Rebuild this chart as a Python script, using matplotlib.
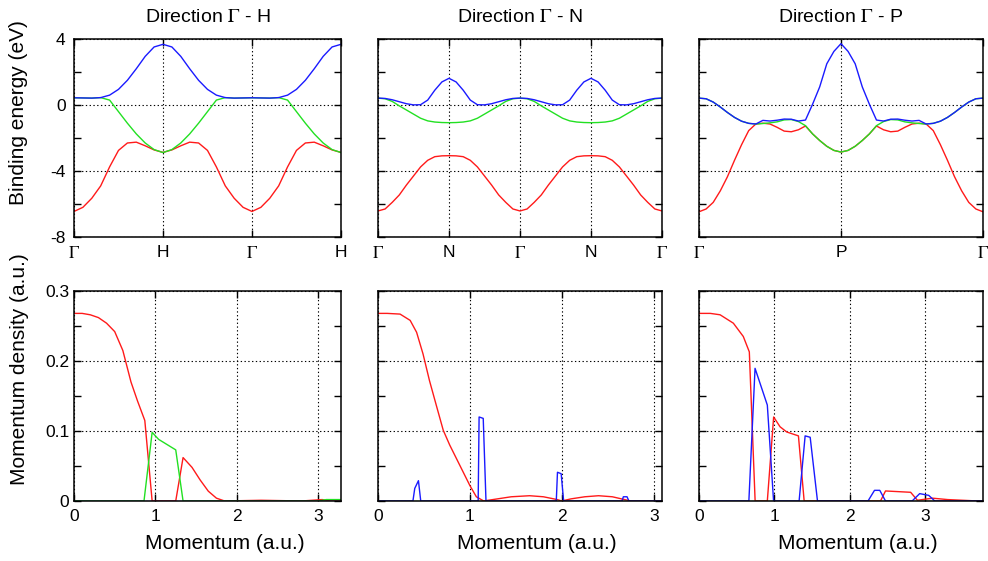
import numpy as np
import matplotlib
matplotlib.use('Agg')
import matplotlib.pyplot as plt

plt.rcParams['font.family'] = ['Liberation Sans', 'DejaVu Sans']
plt.rcParams['mathtext.fontset'] = 'stix'
plt.rcParams['axes.unicode_minus'] = False

# ---- band structure, sampled along the k-path (one unit = one segment) ----
# Direction Gamma - H  (G H G H), step 0.1
gh_red = [-6.45, -6.2, -5.65, -4.9, -3.75, -2.75, -2.3, -2.25, -2.47, -2.72, -2.87,
          -2.72, -2.47, -2.25, -2.3, -2.75, -3.75, -4.9, -5.65, -6.2, -6.45,
          -6.2, -5.65, -4.9, -3.75, -2.75, -2.3, -2.25, -2.47, -2.72, -2.87]
gh_green = [0.44, 0.43, 0.42, 0.45, 0.3, -0.4, -1.1, -1.75, -2.3, -2.7, -2.88,
            -2.7, -2.3, -1.75, -1.1, -0.4, 0.3, 0.45, 0.42, 0.43, 0.44,
            0.43, 0.42, 0.45, 0.3, -0.4, -1.1, -1.75, -2.3, -2.7, -2.88]
gh_blue = [0.44, 0.43, 0.42, 0.45, 0.6, 0.95, 1.5, 2.2, 2.95, 3.52, 3.68,
           3.52, 2.95, 2.2, 1.5, 0.95, 0.6, 0.45, 0.42, 0.43, 0.44,
           0.43, 0.42, 0.45, 0.6, 0.95, 1.5, 2.2, 2.95, 3.52, 3.68]

# Direction Gamma - N  (G N G N G), step 0.1
gn_red = [-6.42, -6.3, -5.9, -5.45, -4.85, -4.3, -3.75, -3.35, -3.13, -3.08, -3.07,
          -3.08, -3.13, -3.35, -3.75, -4.3, -4.85, -5.45, -5.9, -6.3, -6.42,
          -6.3, -5.9, -5.45, -4.85, -4.3, -3.75, -3.35, -3.13, -3.08, -3.07,
          -3.08, -3.13, -3.35, -3.75, -4.3, -4.85, -5.45, -5.9, -6.3, -6.42]
gn_green = [0.42, 0.38, 0.22, -0.05, -0.3, -0.55, -0.8, -0.96, -1.03, -1.06, -1.07,
            -1.06, -1.03, -0.96, -0.8, -0.55, -0.3, -0.05, 0.22, 0.38, 0.42,
            0.38, 0.22, -0.05, -0.3, -0.55, -0.8, -0.96, -1.03, -1.06, -1.07,
            -1.06, -1.03, -0.96, -0.8, -0.55, -0.3, -0.05, 0.22, 0.38, 0.42]
gn_blue = [0.42, 0.4, 0.32, 0.2, 0.08, 0.01, 0.02, 0.3, 0.9, 1.4, 1.62,
           1.4, 0.9, 0.3, 0.02, 0.01, 0.08, 0.2, 0.32, 0.4, 0.42,
           0.4, 0.32, 0.2, 0.08, 0.01, 0.02, 0.3, 0.9, 1.4, 1.62,
           1.4, 0.9, 0.3, 0.02, 0.01, 0.08, 0.2, 0.32, 0.4, 0.42]

# Direction Gamma - P  (G P G), step 0.05
gp_red = [-6.47, -6.3, -5.9, -5.2, -4.35, -3.35, -2.4, -1.55, -1.15, -1.1,
          -1.15, -1.35, -1.58, -1.62, -1.5, -1.27, -1.75, -2.15, -2.5, -2.75, -2.85,
          -2.75, -2.5, -2.15, -1.75, -1.27, -1.5, -1.62, -1.58, -1.35, -1.15,
          -1.1, -1.15, -1.55, -2.4, -3.35, -4.35, -5.2, -5.9, -6.3, -6.47]
gp_green = [0.42, 0.38, 0.18, -0.12, -0.45, -0.75, -0.98, -1.11, -1.15, -1.12,
            -1.08, -1.02, -0.9, -0.88, -1.0, -1.25, -1.75, -2.15, -2.5, -2.75, -2.85,
            -2.75, -2.5, -2.15, -1.75, -1.25, -1.0, -0.88, -0.9, -1.02, -1.08,
            -1.12, -1.15, -1.11, -0.98, -0.75, -0.45, -0.12, 0.18, 0.38, 0.42]
gp_blue = [0.42, 0.38, 0.18, -0.12, -0.45, -0.75, -0.98, -1.11, -1.15, -0.93,
           -0.97, -0.92, -0.85, -0.86, -0.97, -0.91, 0.05, 1.1, 2.5, 3.25, 3.72,
           3.25, 2.5, 1.1, 0.05, -0.91, -0.97, -0.86, -0.85, -0.92, -0.97,
           -0.93, -1.15, -1.11, -0.98, -0.75, -0.45, -0.12, 0.18, 0.38, 0.42]

gh_labels = [r'$\Gamma$', 'H', r'$\Gamma$', 'H']
gn_labels = [r'$\Gamma$', 'N', r'$\Gamma$', 'N', r'$\Gamma$']
gp_labels = [r'$\Gamma$', 'P', r'$\Gamma$']

# ---- momentum densities ----
h_red_x = [0, 0.1, 0.2, 0.3, 0.4, 0.5, 0.6, 0.7, 0.78, 0.87, 0.96, 1.25, 1.34, 1.45,
           1.55, 1.65, 1.75, 1.85, 2.3, 2.8, 3.05, 3.15, 3.28]
h_red_y = [0.268, 0.268, 0.266, 0.262, 0.254, 0.242, 0.215, 0.17, 0.143, 0.115, 0.0,
           0.0, 0.062, 0.048, 0.03, 0.014, 0.004, 0.0, 0.001, 0.0, 0.002, 0.0, 0.0]
h_green_x = [0, 0.86, 0.96, 1.04, 1.25, 1.34, 3.0, 3.1, 3.28]
h_green_y = [0, 0, 0.098, 0.088, 0.073, 0, 0, 0.002, 0.002]
h_blue_x = [0, 3.28]
h_blue_y = [0, 0]

n_red_x = [0, 0.1, 0.24, 0.35, 0.42, 0.49, 0.56, 0.64, 0.71, 0.78, 0.89, 1.0, 1.07,
           1.15, 1.3, 1.45, 1.65, 1.8, 1.95, 2.0, 2.1, 2.25, 2.4, 2.55, 2.75, 3.09]
n_red_y = [0.268, 0.268, 0.267, 0.258, 0.241, 0.21, 0.172, 0.134, 0.101, 0.08, 0.051,
           0.022, 0.006, 0.0, 0.003, 0.006, 0.0075, 0.006, 0.002, 0.0, 0.003, 0.006,
           0.0075, 0.006, 0.0, 0.0]
n_green_x = [0, 3.09]
n_green_y = [0, 0]
n_blue_x = [0, 0.38, 0.4, 0.44, 0.465, 1.09, 1.1, 1.145, 1.175, 1.94, 1.953, 1.993,
            2.02, 2.655, 2.67, 2.71, 2.73, 3.09]
n_blue_y = [0, 0, 0.018, 0.029, 0, 0, 0.12, 0.118, 0, 0, 0.041, 0.039, 0, 0, 0.006,
            0.006, 0, 0]

p_red_x = [0, 0.15, 0.28, 0.456, 0.588, 0.668, 0.745, 0.907, 0.991, 1.076, 1.164,
           1.32, 1.396, 2.41, 2.476, 2.81, 2.9, 3.1, 3.3, 3.5, 3.7, 3.77]
p_red_y = [0.268, 0.268, 0.266, 0.254, 0.235, 0.213, 0.0, 0.0, 0.12, 0.106, 0.0986,
           0.093, 0.0, 0.0, 0.0143, 0.0124, 0.001, 0.004, 0.002, 0.001, 0.0, 0.0]
p_green_x = [0, 3.77]
p_green_y = [0, 0]
p_blue_x = [0, 0.662, 0.744, 0.907, 0.99, 1.329, 1.409, 1.476, 1.573, 2.244, 2.33,
            2.4, 2.476, 2.83, 2.93, 3.05, 3.13, 3.77]
p_blue_y = [0, 0, 0.1895, 0.137, 0, 0, 0.093, 0.091, 0, 0, 0.0152, 0.0152, 0, 0,
            0.0105, 0.008, 0, 0]

RED, GREEN, BLUE = '#ff1a1a', '#22e022', '#1a1aff'
LW = 1.0

fig = plt.figure(figsize=(9.88, 5.61), dpi=100)

cols = [(0.0749, 0.2702), (0.3826, 0.2874), (0.7075, 0.2874)]
top_axes = [fig.add_axes([l, 0.5775, w, 0.3529]) for l, w in cols]
bot_axes = [fig.add_axes([l, 0.1070, w, 0.3743]) for l, w in cols]


def style(ax, pad):
    ax.tick_params(which='both', direction='in', top=True, right=True,
                   length=5, width=1, labelsize=12.5)
    ax.tick_params(axis='y', pad=pad)
    ax.tick_params(axis='x', pad=6)
    ax.grid(True, which='major', linestyle=(0, (1.2, 2.2)), color='k', lw=0.8)
    for s in ax.spines.values():
        s.set_linewidth(1.1)


# top row: band structures
bands = [(gh_red, gh_green, gh_blue, gh_labels, 'H'),
         (gn_red, gn_green, gn_blue, gn_labels, 'N'),
         (gp_red, gp_green, gp_blue, gp_labels, 'P')]
for i, (ax, (r, g, b, labels, pt)) in enumerate(zip(top_axes, bands)):
    nseg = len(labels) - 1
    t = np.linspace(0, nseg, len(r))
    ax.plot(t, r, color=RED, lw=LW)
    ax.plot(t, g, color=GREEN, lw=LW)
    ax.plot(t, b, color=BLUE, lw=LW)
    ax.set_xlim(0, nseg)
    ax.set_ylim(-8, 4)
    ax.set_xticks(range(nseg + 1))
    ax.set_xticklabels(labels)
    ax.set_yticks([-8, -4, 0, 4])
    ax.set_yticks([-6, -2, 2], minor=True)
    style(ax, 6)
    ax.set_title(r'Direction $\Gamma$ - ' + pt, fontsize=14, pad=12)
    if i > 0:
        ax.tick_params(labelleft=False)

top_axes[0].set_ylabel('Binding energy (eV)', fontsize=15)
top_axes[0].yaxis.set_label_coords(-0.172, 0.629)

# bottom row: momentum densities
dens = [(h_red_x, h_red_y, h_green_x, h_green_y, h_blue_x, h_blue_y, 3.28),
        (n_red_x, n_red_y, n_green_x, n_green_y, n_blue_x, n_blue_y, 3.09),
        (p_red_x, p_red_y, p_green_x, p_green_y, p_blue_x, p_blue_y, 3.77)]
for i, (ax, (rx, ry, gx, gy, bx, by, xmax)) in enumerate(zip(bot_axes, dens)):
    ax.plot(rx, ry, color=RED, lw=LW)
    ax.plot(gx, gy, color=GREEN, lw=LW)
    ax.plot(bx, by, color=BLUE, lw=LW)
    ax.set_xlim(0, xmax)
    ax.set_ylim(0, 0.3)
    ax.set_xticks([0, 1, 2, 3])
    ax.set_yticks([0, 0.1, 0.2, 0.3])
    ax.set_yticklabels(['0', '0.1', '0.2', '0.3'])
    ax.set_yticks([0.05, 0.15, 0.25], minor=True)
    style(ax, 3.5)
    ax.set_xlabel('Momentum (a.u.)', fontsize=15)
    w_px = ax.get_position().width * 988
    ax.xaxis.set_label_coords(0.5 + 17 / w_px, -0.155)
    if i > 0:
        ax.tick_params(labelleft=False)

bot_axes[0].set_ylabel('Momentum density (a.u.)', fontsize=15)
bot_axes[0].yaxis.set_label_coords(-0.170, 0.629)

fig.savefig('out.png', dpi=100)
